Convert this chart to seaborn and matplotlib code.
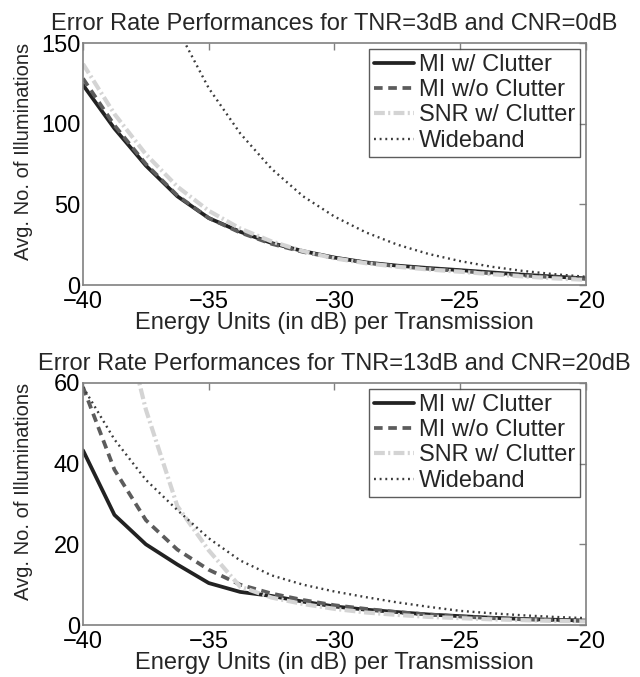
import numpy as np
import pandas as pd
import matplotlib
matplotlib.use("Agg")
import matplotlib.pyplot as plt
import seaborn as sns

# ---------------- data ----------------
energy_db = [-40, -38.75, -37.5, -36.25, -35, -33.75, -32.5, -31.25, -30,
             -28.75, -27.5, -26.25, -25, -23.75, -22.5, -21.25, -20]

series_names = ["MI w/ Clutter", "MI w/o Clutter", "SNR w/ Clutter", "Wideband"]

# top panel: TNR=3dB, CNR=0dB
top_mi_clutter = [124, 97, 74, 55, 41.5, 33, 26, 21, 17, 14, 12, 10.5, 9.2, 7.8, 6.4, 5.2, 4.1]
top_mi_no_clutter = [128, 99, 75, 55.5, 41.5, 32.5, 25.5, 20.5, 16.8, 13.8, 11.6, 10, 8.7, 7.2, 5.9, 4.8, 3.8]
top_snr_clutter = [137, 106, 81, 61, 46, 35, 27, 21, 16.5, 13.5, 11.3, 9.6, 8.2, 6.7, 5.3, 4.1, 3.2]
top_wideband = [350, 269, 207, 159, 122, 94, 72, 55, 42.4, 32.6, 25, 19.2, 14.8, 11.3, 8.7, 6.7, 5.1]

# bottom panel: TNR=13dB, CNR=20dB
bot_mi_clutter = [43.3, 27.3, 20, 15, 10.4, 8.2, 7.2, 5.8, 4.6, 3.8, 3.2, 2.6, 2.2, 1.8, 1.5, 1.3, 1.1]
bot_mi_no_clutter = [59, 38.5, 26, 18.7, 13.7, 10, 7.8, 6.2, 4.9, 4.0, 3.2, 2.6, 2.1, 1.7, 1.4, 1.2, 1.0]
bot_snr_clutter = [130, 85, 53.4, 29.5, 18.5, 9.5, 6.8, 5.2, 4.0, 3.1, 2.5, 2.0, 1.7, 1.4, 1.2, 1.0, 0.9]
bot_wideband = [59, 46, 36, 28.5, 21.5, 16, 12.3, 10, 8.3, 6.9, 5.6, 4.5, 3.5, 2.9, 2.4, 2.0, 1.7]

titles = ["Error Rate Performances for TNR=3dB and CNR=0dB",
          "Error Rate Performances for TNR=13dB and CNR=20dB"]
x_label = "Energy Units (in dB) per Transmission"
y_label = "Avg. No. of Illuminations"
x_ticks = [-40, -35, -30, -25, -20]
top_y_ticks = [0, 50, 100, 150]
bot_y_ticks = [0, 20, 40, 60]

# ---------------- styling ----------------
sns.set_style("white")
plt.rcParams['font.family'] = ['Liberation Sans', 'DejaVu Sans']

colors = ["#222222", "#5c5c5c", "#d4d4d4", "#3c3c3c"]
widths = [2.7, 2.7, 3.0, 1.7]
styles = ["-", (0, (2.3, 1.5)), (0, (2.6, 0.8, 0.5, 0.8)), (0, (0.8, 1.6))]

W, H = 640, 677
fig = plt.figure(figsize=(6.4, 6.77), dpi=100)
L, R = 83, 586
top_box = (43, 285)
bot_box = (383, 625)


def add_ax(box):
    t, b = box
    return fig.add_axes([L / W, 1 - b / H, (R - L) / W, (b - t) / H])


ax_top = add_ax(top_box)
ax_bot = add_ax(bot_box)

panels = [
    (ax_top, top_box, [top_mi_clutter, top_mi_no_clutter, top_snr_clutter, top_wideband], 150, top_y_ticks, titles[0]),
    (ax_bot, bot_box, [bot_mi_clutter, bot_mi_no_clutter, bot_snr_clutter, bot_wideband], 60, bot_y_ticks, titles[1]),
]

FS = 17
for ax, box, series, ymax, yticks, title in panels:
    t, b = box
    hpx = b - t
    for name, vals, c, lw, ls in zip(series_names, series, colors, widths, styles):
        df = pd.DataFrame({"energy": energy_db, "value": vals})
        sns.lineplot(data=df, x="energy", y="value", ax=ax, color=c,
                     linewidth=lw, linestyle=ls, label=name)
    ax.set_xlim(-40, -20)
    ax.set_ylim(0, ymax)
    ax.set_xticks(x_ticks)
    ax.set_yticks(yticks)
    ax.tick_params(direction="in", length=5, width=1, colors="#808080",
                   labelcolor="black", labelsize=FS, top=True, right=True)
    ax.tick_params(axis="x", pad=4)
    ax.tick_params(axis="y", pad=2)
    for sp in ax.spines.values():
        sp.set_color("#808080")
        sp.set_linewidth(1.2)
    ax.set_xlabel(x_label, fontsize=FS)
    ax.xaxis.set_label_coords(0.5, -27.5 / hpx)
    ax.set_ylabel(y_label, fontsize=14.5)
    ax.yaxis.set_label_coords((33 - L) / (R - L), 0.55)
    ax.set_title(title, fontsize=FS, pad=9)
    leg = ax.legend(loc="upper right", fontsize=FS, frameon=True, fancybox=False,
                    handlelength=1.72, handletextpad=0.2, borderpad=0.2,
                    labelspacing=0.14, borderaxespad=0.26)
    leg.get_frame().set_edgecolor("#333333")
    leg.get_frame().set_linewidth(1.0)

fig.savefig("out.png", dpi=100)
